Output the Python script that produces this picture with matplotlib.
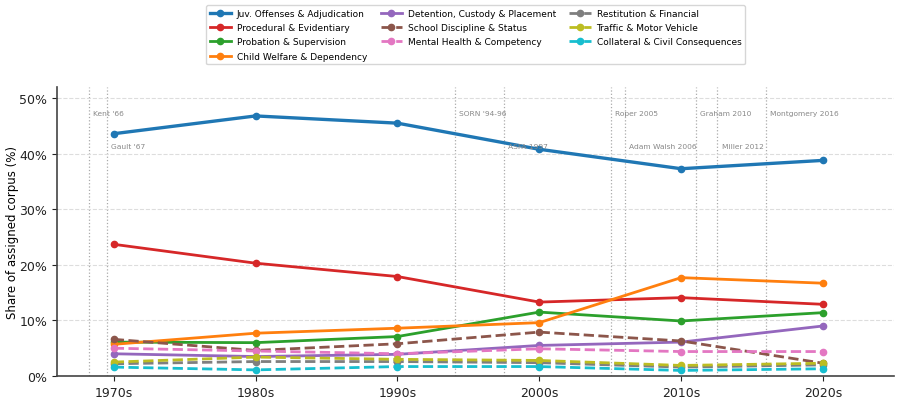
import matplotlib
matplotlib.use("Agg")
import matplotlib.pyplot as plt
from matplotlib.ticker import FuncFormatter

# data

decades = ["1970s", "1980s", "1990s", "2000s", "2010s", "2020s"]

juv_offenses = [43.6, 46.8, 45.5, 40.8, 37.3, 38.8]
procedural = [23.7, 20.3, 17.9, 13.3, 14.1, 12.9]
probation = [6.1, 6.0, 7.1, 11.5, 9.9, 11.4]
child_welfare = [5.7, 7.7, 8.6, 9.6, 17.7, 16.7]
detention = [4.0, 3.5, 3.9, 5.5, 6.1, 9.0]
school = [6.6, 4.6, 5.8, 7.9, 6.3, 2.3]
mental_health = [5.0, 4.5, 4.0, 4.9, 4.4, 4.4]
restitution = [2.2, 2.6, 2.6, 2.4, 1.6, 2.0]
traffic = [2.5, 3.4, 3.0, 2.8, 1.9, 2.3]
collateral = [1.6, 1.1, 1.7, 1.7, 1.0, 1.3]

series_labels = [
    "Juv. Offenses & Adjudication",
    "Procedural & Evidentiary",
    "Probation & Supervision",
    "Child Welfare & Dependency",
    "Detention, Custody & Placement",
    "School Discipline & Status",
    "Mental Health & Competency",
    "Restitution & Financial",
    "Traffic & Motor Vehicle",
    "Collateral & Civil Consequences",
]
series_values = [juv_offenses, procedural, probation, child_welfare, detention,
                 school, mental_health, restitution, traffic, collateral]

# landmark events, position in decade units from the 1970s
event_labels = ["Kent '66", "Gault '67", "SORN '94-96", "ASFA 1997", "Roper 2005",
                "Adam Walsh 2006", "Graham 2010", "Miller 2012", "Montgomery 2016"]
event_pos = [-0.176, -0.05, 2.403, 2.753, 3.505, 3.601, 4.106, 4.256, 4.6]


def main():

    colors = ["#1f77b4", "#d62728", "#2ca02c", "#ff7f0e", "#9467bd",
              "#8c564b", "#e377c2", "#7f7f7f", "#bcbd22", "#17becf"]

    fig = plt.figure(figsize=(9.02, 4.02), dpi=100)
    ax = fig.add_axes([0.0632, 0.0622, 0.9278, 0.7188])

    x = list(range(len(decades)))

    for i, (lab, vals) in enumerate(zip(series_labels, series_values)):
        style = "-" if i < 5 else "--"
        lw = 2.4 if i == 0 else 2.0
        ax.plot(x, vals, style, color=colors[i], lw=lw, marker="o",
                markersize=4.5, label=lab, zorder=3)

    # event markers
    for j, (lab, pos) in enumerate(zip(event_labels, event_pos)):
        ax.axvline(pos, color="#aaaaaa", lw=0.9, ls=":", zorder=1)
        ty = 0.91 if j % 2 == 0 else 0.795
        ax.text(pos + 0.03, ty, lab, transform=ax.get_xaxis_transform(),
                fontsize=5.4, color="#888888", va="center", ha="left")

    ax.set_xlim(-0.4, 5.5)
    ax.set_ylim(0, 52)
    ax.set_xticks(x)
    ax.set_xticklabels(decades)
    ax.set_yticks([0, 10, 20, 30, 40, 50])
    ax.yaxis.set_major_formatter(FuncFormatter(lambda v, p: "%d%%" % v))
    ax.tick_params(axis="both", labelsize=9, colors="#222222")
    ax.set_ylabel("Share of assigned corpus (%)", fontsize=8.5, labelpad=0)

    ax.grid(True, axis="y", ls="--", color="#dddddd", lw=0.8, zorder=0)
    ax.spines["top"].set_visible(False)
    ax.spines["right"].set_visible(False)
    for s in ("left", "bottom"):
        ax.spines[s].set_color("#444444")
        ax.spines[s].set_linewidth(1.2)

    ax.legend(loc="lower center", bbox_to_anchor=(0.5, 1.063), ncol=3,
              fontsize=6.5, frameon=True, handlelength=2.4, numpoints=1,
              columnspacing=1.5, labelspacing=0.58, borderpad=0.4,
              handletextpad=0.6)

    fig.savefig("out.png", dpi=100)


if __name__ == "__main__":
    main()
